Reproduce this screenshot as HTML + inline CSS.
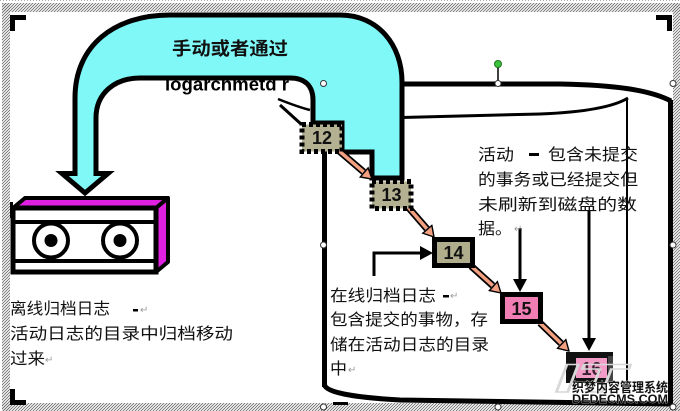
<!DOCTYPE html>
<html><head><meta charset="utf-8"><style>
html,body{margin:0;padding:0;background:#fff;}
svg{display:block;}
text{font-family:"Liberation Sans","Noto Sans CJK SC",sans-serif;}
.cj{font-size:16px;fill:#111;}
.rt{fill:#999;font-size:10px;font-family:"DejaVu Sans",sans-serif;}
</style></head><body>
<svg width="680" height="411" viewBox="0 0 680 411" xmlns="http://www.w3.org/2000/svg">
<defs>
<pattern id="h" patternUnits="userSpaceOnUse" width="3" height="3">
<path d="M-1,1 L1,-1 M0,3 L3,0 M2,4 L4,2" stroke="#6e6e6e" stroke-width="0.9"/>
</pattern>
<marker id="sh" viewBox="0 0 12 14" refX="0" refY="7" markerWidth="12" markerHeight="14" orient="auto" markerUnits="userSpaceOnUse">
<path d="M0.8,1 L11,7 L0.8,13 Z" fill="#f2a080" stroke="#000" stroke-width="1.4"/>
</marker>
<marker id="bk" viewBox="0 0 13 14" refX="0" refY="7" markerWidth="13" markerHeight="14" orient="auto" markerUnits="userSpaceOnUse">
<path d="M0,0 L13,7 L0,14 Z" fill="#000"/>
</marker>
<clipPath id="lc"><rect x="150" y="80.5" width="160" height="20"/></clipPath>
</defs>
<rect width="680" height="411" fill="#fff"/>
<!-- hatched frame -->
<line x1="0" y1="0.5" x2="680" y2="0.5" stroke="#aaa" stroke-dasharray="1,2"/>
<rect x="2" y="3" width="678" height="9" fill="url(#h)"/>
<rect x="2" y="3" width="8" height="408" fill="url(#h)"/>
<rect x="673" y="3" width="7" height="408" fill="url(#h)"/>
<rect x="2" y="403" width="678" height="8" fill="url(#h)"/>
<!-- corner marks -->
<path d="M12.5,31 V17.5 H26" fill="none" stroke="#000" stroke-width="5"/>
<path d="M656,17.5 H669.5 V31" fill="none" stroke="#000" stroke-width="5"/>
<path d="M12.5,389 V402.5 H26" fill="none" stroke="#000" stroke-width="5"/>
<rect x="333" y="402" width="15" height="3" fill="#000"/>
<rect x="10" y="202" width="3" height="16" fill="#000"/>

<!-- logarch text (under arch, top clipped) -->
<g clip-path="url(#lc)">
<text x="165" y="90.5" font-size="18" font-weight="bold" textLength="124" lengthAdjust="spacingAndGlyphs" fill="#000">logarchmetd r</text>
</g>

<!-- cyan arrow -->
<path d="M85,193 L62,173.5 L75,173.5 L75,98 C75,45 115,15 170,15 L340,15 C378,15 402,45 402,82 L402,178 L372,178 L372,152 L342,152 L342,123 L313,123 L313,100 C313,86 305,78 290,78 L140,78 C115,78 96,93 96,118 L96,173.5 L108,173.5 Z" fill="#80f8f8" stroke="#000" stroke-width="5" stroke-linejoin="miter"/>
<text x="172" y="55" font-size="18" font-weight="bold" textLength="116" lengthAdjust="spacingAndGlyphs" fill="#111">手动或者通过</text>

<!-- leader marks -->
<path d="M278,99 C288,103 298,107 310,110" fill="none" stroke="#000" stroke-width="2.5"/>
<path d="M280,105 L301,124" fill="none" stroke="#000" stroke-width="3"/>

<!-- cylinder -->
<path d="M402,84 L560,84 C615,85 650,90 671,101" fill="none" stroke="#000" stroke-width="5"/>
<path d="M402,117.5 L540,114 C590,112 615,106 628,98" fill="none" stroke="#000" stroke-width="3"/>
<line x1="627" y1="98" x2="627" y2="388" stroke="#000" stroke-width="2"/>
<line x1="670.5" y1="100" x2="670.5" y2="404" stroke="#000" stroke-width="5"/>
<line x1="324.5" y1="150" x2="324.5" y2="387" stroke="#000" stroke-width="5"/>
<path d="M324.5,385 Q328,396 400,400 L672,404" fill="none" stroke="#000" stroke-width="5"/>

<!-- cassette -->
<polygon points="13,208 25,198 168,198 156,208" fill="#e020e0" stroke="#000" stroke-width="4" stroke-linejoin="round"/>
<polygon points="156,208 168,198 168,262 156,272" fill="#e020e0" stroke="#000" stroke-width="4" stroke-linejoin="round"/>
<rect x="13" y="208" width="143" height="64" fill="#fff" stroke="#000" stroke-width="5"/>
<line x1="13" y1="222" x2="156" y2="222" stroke="#000" stroke-width="4"/>
<line x1="13" y1="261" x2="156" y2="261" stroke="#000" stroke-width="4"/>
<circle cx="51" cy="240.5" r="17" fill="#fff" stroke="#000" stroke-width="4"/>
<circle cx="51" cy="240.5" r="6.5" fill="#000"/>
<circle cx="120" cy="240.5" r="17" fill="#fff" stroke="#000" stroke-width="4"/>
<circle cx="120" cy="240.5" r="6.5" fill="#000"/>

<!-- salmon arrows -->
<g fill="none">
<line x1="338" y1="150" x2="363.6" y2="171.9" stroke="#000" stroke-width="7"/>
<line x1="338" y1="150" x2="363.6" y2="171.9" stroke="#f2a080" stroke-width="3.5" marker-end="url(#sh)"/>
<line x1="408" y1="207" x2="426.8" y2="228.7" stroke="#000" stroke-width="7"/>
<line x1="408" y1="207" x2="426.8" y2="228.7" stroke="#f2a080" stroke-width="3.5" marker-end="url(#sh)"/>
<line x1="471" y1="266" x2="492.8" y2="285.6" stroke="#000" stroke-width="7"/>
<line x1="471" y1="266" x2="492.8" y2="285.6" stroke="#f2a080" stroke-width="3.5" marker-end="url(#sh)"/>
<line x1="540" y1="323" x2="561.1" y2="343.4" stroke="#000" stroke-width="7"/>
<line x1="540" y1="323" x2="561.1" y2="343.4" stroke="#f2a080" stroke-width="3.5" marker-end="url(#sh)"/>
</g>

<!-- boxes -->
<rect x="302" y="124.5" width="40" height="27" fill="#b4b092" stroke="#000" stroke-width="5" stroke-dasharray="4,3"/>
<text x="322" y="144" font-size="18" font-weight="bold" text-anchor="middle" fill="#111">12</text>
<rect x="372" y="181.5" width="39" height="27" fill="#b4b092" stroke="#000" stroke-width="5" stroke-dasharray="4,3"/>
<text x="391.5" y="201" font-size="18" font-weight="bold" text-anchor="middle" fill="#111">13</text>
<rect x="434.5" y="239.5" width="38" height="26" fill="#b0ad8d" stroke="#000" stroke-width="5"/>
<text x="453.5" y="259" font-size="18" font-weight="bold" text-anchor="middle" fill="#111">14</text>
<rect x="502.5" y="294.5" width="38" height="27" fill="#f07eb4" stroke="#000" stroke-width="5"/>
<text x="521.5" y="315" font-size="18" font-weight="bold" text-anchor="middle" fill="#111">15</text>
<rect x="566" y="352" width="47" height="31" fill="#111"/>
<rect x="608" y="356" width="5" height="27" fill="#444"/>
<rect x="576" y="358" width="31" height="20" fill="#f49cc8"/>
<text x="591.5" y="375" font-size="18" font-weight="bold" text-anchor="middle" fill="#3a2030">16</text>

<!-- black arrows -->
<line x1="520" y1="228" x2="520" y2="279" stroke="#000" stroke-width="3" marker-end="url(#bk)"/>
<line x1="589" y1="210" x2="589" y2="338" stroke="#000" stroke-width="3" marker-end="url(#bk)"/>
<path d="M374,276 V253 H420" fill="none" stroke="#000" stroke-width="3" marker-end="url(#bk)"/>

<!-- right text -->
<text class="cj" x="478" y="160" textLength="36" lengthAdjust="spacingAndGlyphs">活动</text>
<rect x="529" y="153" width="10" height="3" fill="#000"/>
<text class="cj" x="548" y="160" textLength="90" lengthAdjust="spacingAndGlyphs">包含未提交</text>
<text class="cj" x="478" y="185" textLength="160" lengthAdjust="spacingAndGlyphs">的事务或已经提交但</text>
<text class="cj" x="478" y="210" textLength="159" lengthAdjust="spacingAndGlyphs">未刷新到磁盘的数</text>
<text class="cj" x="478" y="234" textLength="34" lengthAdjust="spacingAndGlyphs">据。</text>
<text class="rt" x="514" y="232">↵</text>

<!-- left text -->
<text class="cj" x="10" y="314" textLength="100" lengthAdjust="spacingAndGlyphs">离线归档日志</text>
<rect x="133" y="309" width="5" height="2.5" fill="#000"/>
<text class="rt" x="140" y="313">↵</text>
<text class="cj" x="10" y="339" textLength="223" lengthAdjust="spacingAndGlyphs">活动日志的目录中归档移动</text>
<text class="cj" x="10" y="364" textLength="35" lengthAdjust="spacingAndGlyphs">过来</text>
<text class="rt" x="45" y="363">↵</text>

<!-- middle text -->
<text class="cj" x="330" y="301" textLength="106" lengthAdjust="spacingAndGlyphs">在线归档日志</text>
<rect x="443" y="295" width="6" height="2.5" fill="#000"/>
<text class="rt" x="450" y="299">↵</text>
<text class="cj" x="330" y="325" textLength="158" lengthAdjust="spacingAndGlyphs">包含提交的事物，存</text>
<text class="cj" x="330" y="350" textLength="159" lengthAdjust="spacingAndGlyphs">储在活动日志的目录</text>
<text class="cj" x="330" y="374" textLength="17" lengthAdjust="spacingAndGlyphs">中</text>
<text class="rt" x="348" y="373">↵</text>

<!-- watermark -->
<text x="555" y="392" font-size="40" font-style="italic" font-weight="bold" fill="none" stroke="#d8d8d8" stroke-width="1.5" textLength="70" lengthAdjust="spacingAndGlyphs">IT</text>
<text x="572" y="392" font-size="13" font-weight="bold" textLength="96" lengthAdjust="spacingAndGlyphs" fill="#111" stroke="#fff" stroke-width="0.6" paint-order="stroke">织梦内容管理系统</text>
<text x="572" y="403" font-size="12" font-weight="bold" textLength="96" lengthAdjust="spacingAndGlyphs" fill="#111" stroke="#fff" stroke-width="0.5" paint-order="stroke">DEDECMS.COM</text>

<!-- selection handles -->
<line x1="498" y1="66" x2="498" y2="82" stroke="#000" stroke-width="1.5"/>
<circle cx="498" cy="64" r="3.5" fill="#3cc43c" stroke="#207020" stroke-width="1"/>
<g fill="#fff" stroke="#333" stroke-width="1">
<circle cx="323.5" cy="83.5" r="3"/>
<circle cx="498" cy="83.5" r="3"/>
<circle cx="673" cy="83.5" r="3"/>
<circle cx="323.5" cy="245" r="3"/>
<circle cx="673" cy="245" r="3"/>
<circle cx="323.5" cy="407" r="3"/>
<circle cx="498" cy="407" r="3"/>
<circle cx="673" cy="407" r="3"/>
</g>
</svg>
</body></html>
